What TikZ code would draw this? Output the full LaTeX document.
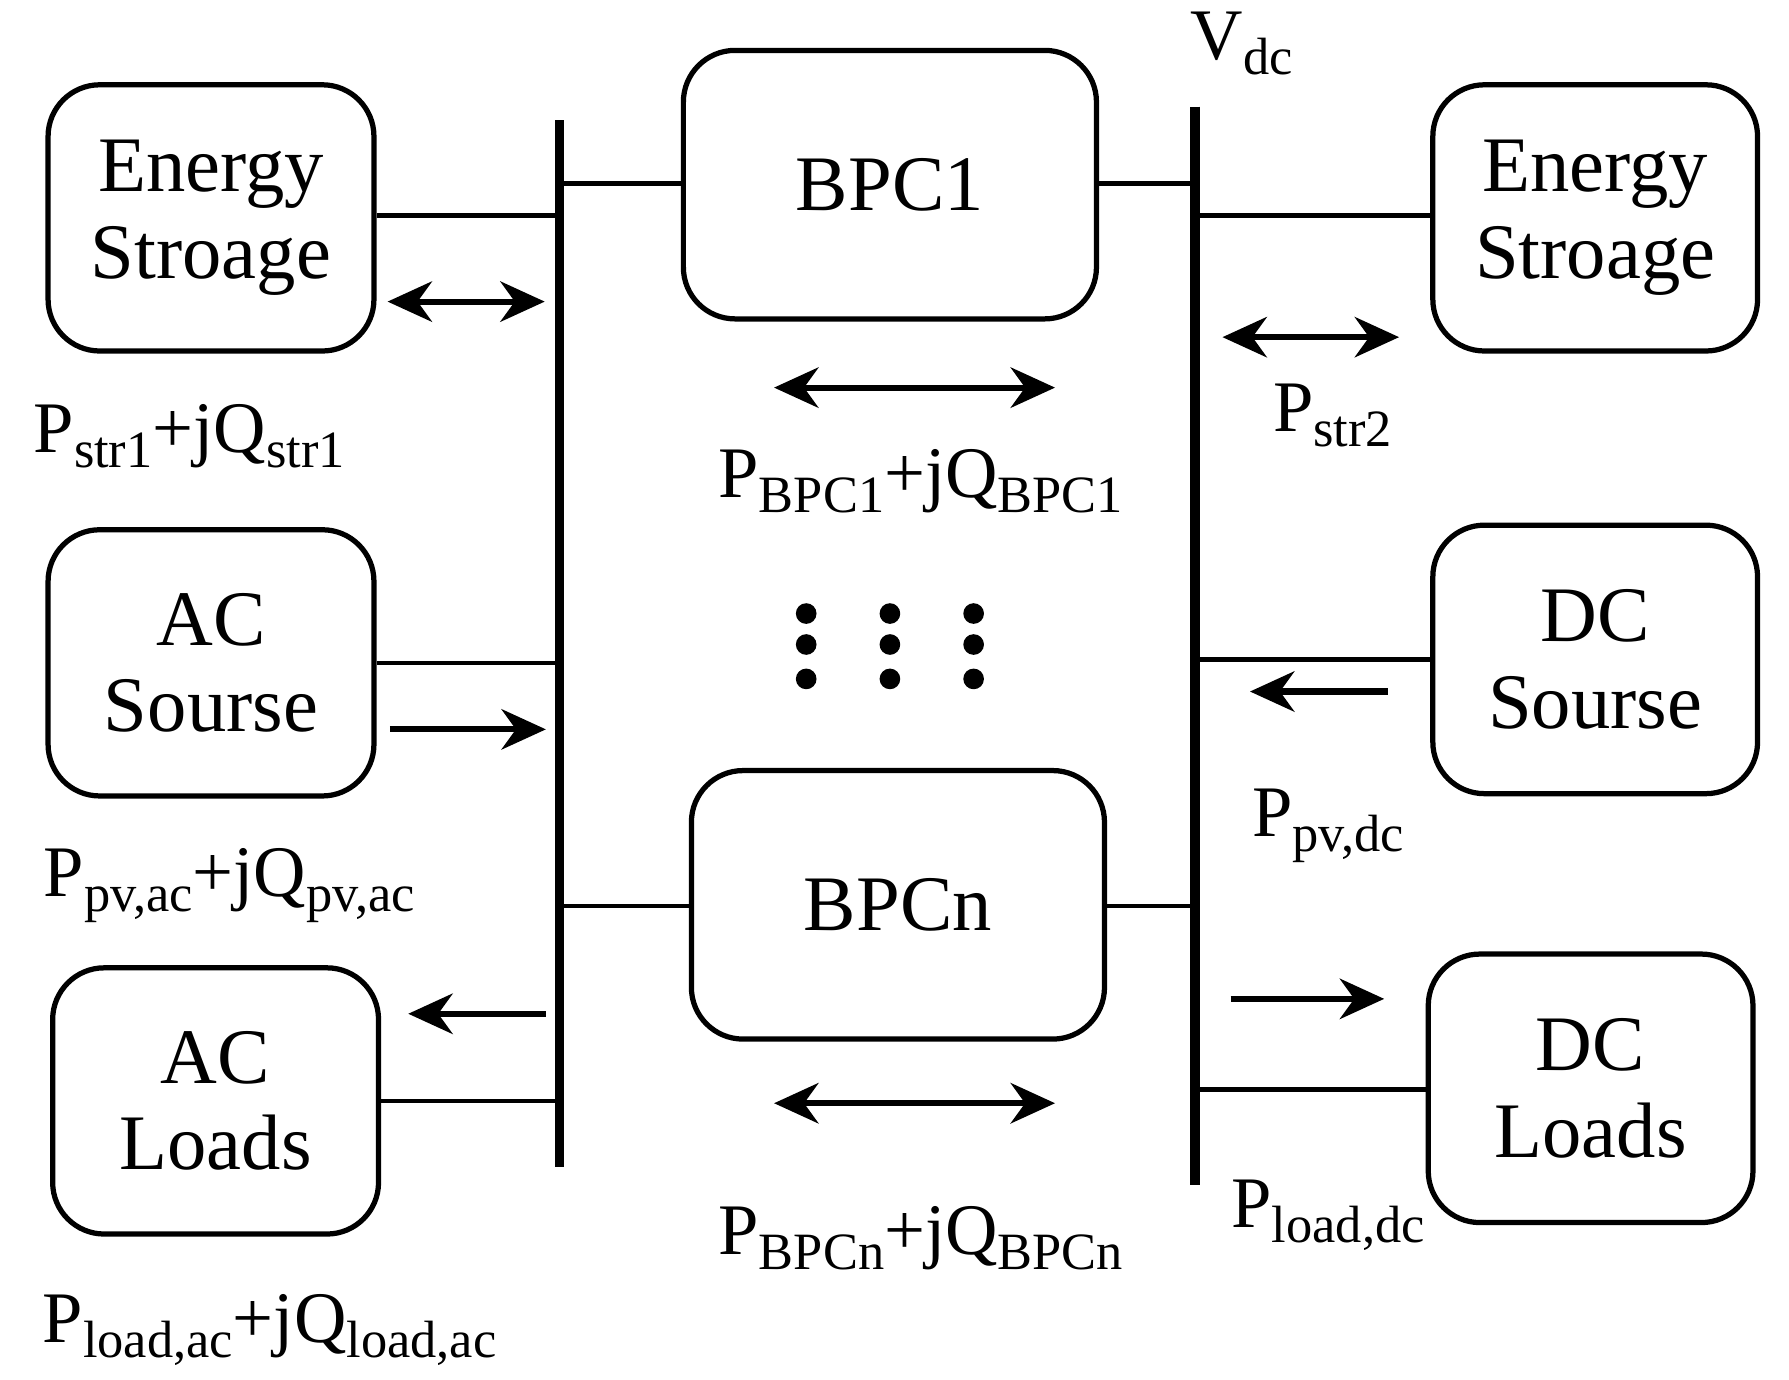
\documentclass[tikz,border=0pt]{standalone}
\usepackage{fontspec}
\setmainfont{Liberation Serif}
\usetikzlibrary{arrows.meta}
\newcommand\lsub[1]{\raisebox{-0.45ex}{\fontsize{13}{13}\selectfont #1}}
\begin{document}
\begin{tikzpicture}[x=0.01cm,y=-0.01cm,
  box/.style={draw,line width=1.3pt,rounded corners=0.45cm,align=center,
    font=\fontsize{19.5}{21.5}\selectfont},
  bus/.style={line width=2.4pt},
  wire/.style={line width=1.1pt},
  flow/.style={line width=1.5pt,-{Stealth[length=11pt,width=10pt]}},
  flow2/.style={line width=1.5pt,{Stealth[length=11pt,width=10pt]}-{Stealth[length=11pt,width=10pt]}},
  lbl/.style={font=\fontsize{18}{20}\selectfont}]
\useasboundingbox (0,0) rectangle (1560,1203);
% boxes
\node[box,minimum width=2.84cm,minimum height=2.32cm] (es1) at (184,190) {Energy\\Stroage};
\node[box,minimum width=2.84cm,minimum height=2.32cm] (acs) at (184,578) {AC\\Sourse};
\node[box,minimum width=2.84cm,minimum height=2.32cm] (acl) at (188,960) {AC\\Loads};
\node[box,minimum width=3.60cm,minimum height=2.34cm] (b1) at (776,161) {BPC1};
\node[box,minimum width=3.60cm,minimum height=2.34cm] (bn) at (783,789) {BPCn};
\node[box,minimum width=2.83cm,minimum height=2.32cm] (es2) at (1391,190) {Energy\\Stroage};
\node[box,minimum width=2.83cm,minimum height=2.34cm] (dcs) at (1391,575) {DC\\Sourse};
\node[box,minimum width=2.83cm,minimum height=2.34cm] (dcl) at (1387,949) {DC\\Loads};
% buses
\coordinate (la) at (488,105); \coordinate (lb) at (488,1018);
\coordinate (ra) at (1042,93); \coordinate (rb) at (1042,1033);
\draw[bus] (la) -- (lb);
\draw[bus] (ra) -- (rb);
\node[lbl,anchor=south west] (vdc) at (1026,78) {V\lsub{dc}};
% wires
\draw[wire] (es1.east |- 0,188) -- (488,188);
\draw[wire] (acs.east |- 0,578) -- (488,578);
\draw[wire] (acl.east |- 0,960) -- (488,960);
\draw[wire] (488,160) -- (b1.west |- 0,160);
\draw[wire] (b1.east |- 0,160) -- (1042,160);
\draw[wire] (488,790) -- (bn.west |- 0,790);
\draw[wire] (bn.east |- 0,790) -- (1042,790);
\draw[wire] (1042,188) -- (es2.west |- 0,188);
\draw[wire] (1042,575) -- (dcs.west |- 0,575);
\draw[wire] (1042,950) -- (dcl.west |- 0,950);
% flow arrows
\draw[flow2] (338,263) -- (475,263);
\draw[flow2] (675,338) -- (920,338);
\draw[flow2] (1066,294) -- (1220,294);
\draw[flow2] (675,962) -- (920,962);
\draw[flow] (340,636) -- (476,636);
\draw[flow] (1210,603) -- (1090,603);
\draw[flow] (476,884) -- (356,884);
\draw[flow] (1073,871) -- (1207,871);
% labels
\node[lbl] (l1) at (165,380) {P\lsub{str1}+jQ\lsub{str1}};
\node[lbl] (l2) at (803,420) {P\lsub{BPC1}+jQ\lsub{BPC1}};
\node[lbl] (l3) at (1162,362) {P\lsub{str2}};
\node[lbl] (l4) at (200,772) {P\lsub{pv,ac}+jQ\lsub{pv,ac}};
\node[lbl] (l5) at (1158,720) {P\lsub{pv,dc}};
\node[lbl] (l6) at (1158,1060) {P\lsub{load,dc}};
\node[lbl] (l7) at (803,1080) {P\lsub{BPCn}+jQ\lsub{BPCn}};
\node[lbl] (l8) at (235,1160) {P\lsub{load,ac}+jQ\lsub{load,ac}};
% dots
\foreach \x in {703,776,849}
  \foreach \y in {535,562,592}
    \fill (\x,\y) circle (0.09cm);
\end{tikzpicture}
\end{document}
